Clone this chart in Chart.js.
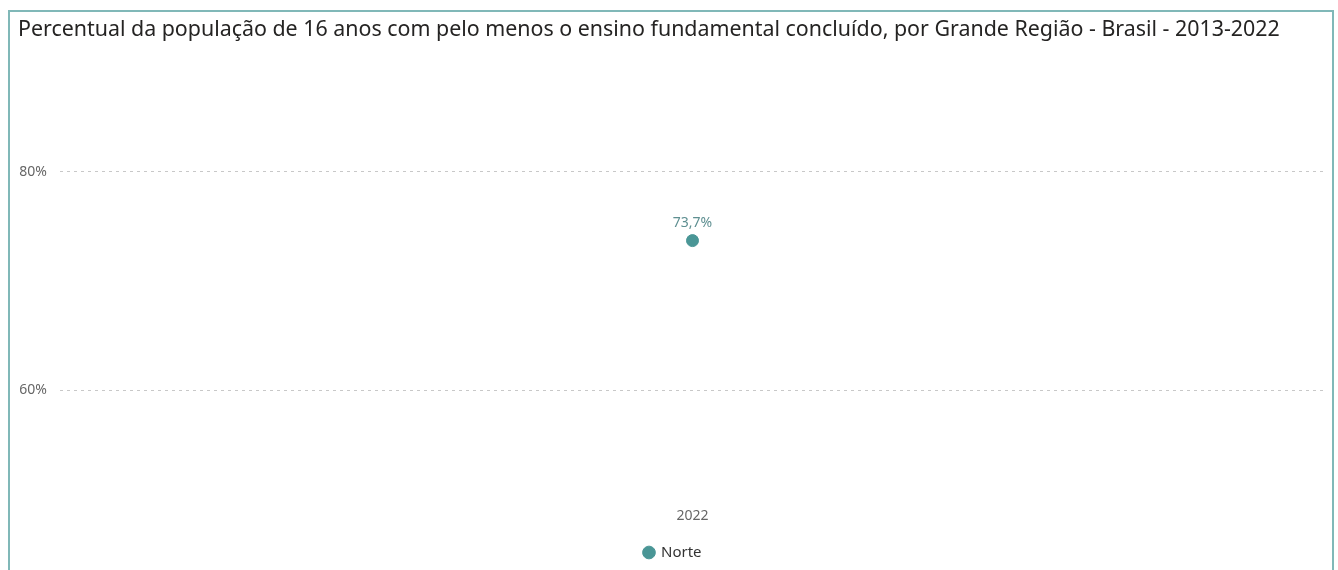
<!DOCTYPE html>
<html>
<head>
<meta charset="utf-8">
<script src="https://cdn.jsdelivr.net/npm/chart.js@4"></script>
<style>
    html, body { margin: 0; padding: 0; background: #fff; overflow: hidden; }
    #frame {
        position: absolute; left: 8px; top: 10px;
        width: 1322px; height: 600px;
        border: 2px solid #80b8b8; border-bottom: none;
    }
    #wrap { position: relative; width: 1322px; height: 558px; }
</style>
</head>
<body>
<div id="frame">
    <div id="wrap"><canvas id="chart"></canvas></div>
</div>
<script>
const titleText = 'Percentual da população de 16 anos com pelo menos o ensino fundamental concluído, por Grande Região - Brasil - 2013-2022';
const categories = ['2022'];
const seriesName = 'Norte';
const seriesValues = [73.7];
const yTicks = [60, 80];

const teal = '#4a9696';
const font = '"Noto Sans", sans-serif';

function pct(v) {
    return v.toFixed(1).replace('.', ',') + '%';
}

// draws the value above each point
const valueLabels = {
    id: 'valueLabels',
    afterDatasetsDraw(chart) {
        const ctx = chart.ctx;
        const meta = chart.getDatasetMeta(0);
        ctx.save();
        ctx.font = '14px ' + font;
        ctx.fillStyle = '#5e8f91';
        ctx.textAlign = 'center';
        ctx.textBaseline = 'middle';
        meta.data.forEach(function(pt, i) {
            ctx.fillText(pct(seriesValues[i]), pt.x, pt.y - 18);
        });
        ctx.restore();
    }
};

const ctx = document.getElementById('chart').getContext('2d');
new Chart(ctx, {
    type: 'line',
    data: {
        labels: categories,
        datasets: [{
            label: seriesName,
            data: seriesValues,
            borderColor: teal,
            backgroundColor: teal,
            pointRadius: 6,
            pointHoverRadius: 6,
            showLine: false
        }]
    },
    options: {
        responsive: true,
        maintainAspectRatio: false,
        animation: false,
        layout: { padding: { left: 8, right: 4, top: 5, bottom: 0 } },
        plugins: {
            title: {
                display: true,
                text: titleText,
                align: 'start',
                color: '#252423',
                font: { family: font, size: 21.4, weight: 'normal' },
                padding: { top: 0, bottom: 41.6 }
            },
            legend: {
                position: 'bottom',
                labels: {
                    usePointStyle: true,
                    pointStyle: 'circle',
                    boxWidth: 9,
                    boxHeight: 9,
                    padding: 10,
                    color: '#333',
                    font: { family: font, size: 15 }
                }
            },
            tooltip: { enabled: false }
        },
        scales: {
            x: {
                offset: true,
                afterFit: function(scale) { scale.height += 2.5; },
                grid: { display: false, drawTicks: false },
                border: { display: false },
                ticks: {
                    color: '#666',
                    padding: 8,
                    font: { family: font, size: 14 }
                }
            },
            y: {
                min: 50,
                max: 88,
                afterBuildTicks: function(scale) {
                    scale.ticks = yTicks.map(function(v) { return { value: v }; });
                },
                afterFit: function(scale) { scale.width = 42; },
                grid: {
                    color: '#c8c8c8',
                    drawTicks: false
                },
                border: { display: false, dash: [3, 4] },
                ticks: {
                    color: '#666',
                    padding: 13,
                    font: { family: font, size: 14 },
                    callback: function(v) { return v + '%'; }
                }
            }
        }
    },
    plugins: [valueLabels]
});
</script>
</body>
</html>
